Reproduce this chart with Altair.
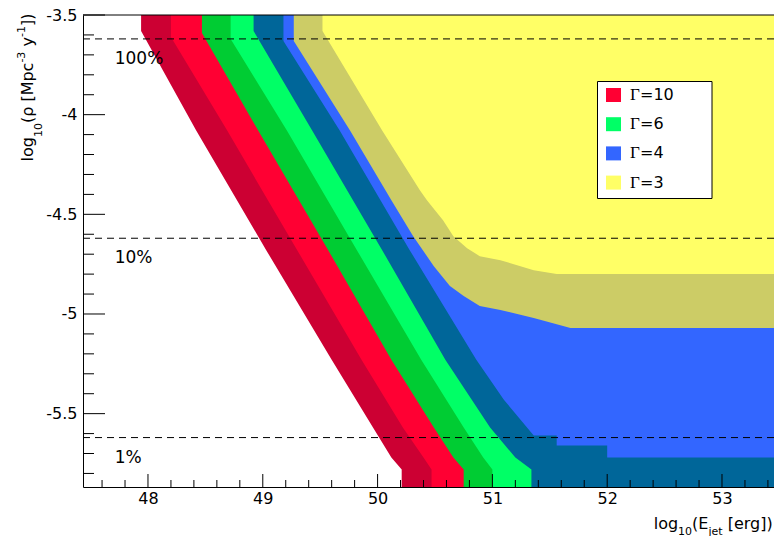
import altair as alt
import pandas as pd

FONT = "DejaVu Sans"
W, H = 691, 472
X_MIN, X_MAX = 47.434, 53.453
Y_MIN, Y_MAX = -5.868, -3.5

# ---- boundaries of the excluded regions (log10 E_jet, log10 rho), listed top -> bottom
G10_OUT_X = [47.94, 47.94, 48.42, 49.03, 49.60, 49.96, 50.12, 50.21, 50.21]
G10_OUT_Y = [-3.50, -3.58, -4.08, -4.68, -5.23, -5.57, -5.72, -5.78, -5.87]
G10_IN_X = [48.20, 48.20, 48.69, 49.30, 49.86, 50.22, 50.40, 50.47, 50.47]
G10_IN_Y = [-3.50, -3.61, -4.08, -4.68, -5.23, -5.57, -5.72, -5.78, -5.87]
G6_OUT_X = [48.47, 48.47, 48.96, 49.57, 50.12, 50.49, 50.66, 50.75, 50.75]
G6_OUT_Y = [-3.50, -3.59, -4.08, -4.68, -5.23, -5.57, -5.72, -5.78, -5.87]
G6_IN_X = [48.72, 48.72, 49.21, 49.82, 50.38, 50.75, 50.92, 51.00, 51.00]
G6_IN_Y = [-3.50, -3.62, -4.08, -4.68, -5.23, -5.57, -5.72, -5.78, -5.87]
G4_OUT_X = [48.92, 48.92, 49.43, 50.04, 50.59, 50.98, 51.20, 51.34, 51.34]
G4_OUT_Y = [-3.50, -3.58, -4.08, -4.68, -5.23, -5.57, -5.72, -5.78, -5.87]
G4_IN_X = [49.18, 49.18, 49.67, 50.28, 50.86, 51.10, 51.36, 51.56, 51.56, 52.00, 52.00]
G4_IN_Y = [-3.50, -3.63, -4.08, -4.68, -5.23, -5.43, -5.61, -5.61, -5.66, -5.66, -5.72]
G3_OUT_X = [49.27, 49.27, 49.76, 50.12, 50.31, 50.49, 50.63, 50.75, 50.89, 51.07, 51.36, 51.68]
G3_OUT_Y = [-3.50, -3.63, -4.08, -4.43, -4.61, -4.76, -4.86, -4.91, -4.96, -4.98, -5.02, -5.07]
G3_IN_X = [49.52, 49.52, 50.04, 50.37, 50.43, 50.57, 50.66, 50.78, 50.89, 51.07, 51.36, 51.56]
G3_IN_Y = [-3.50, -3.58, -4.08, -4.38, -4.43, -4.53, -4.61, -4.67, -4.71, -4.73, -4.78, -4.80]

REGION_COLORS = ["#CC0033", "#FF0033", "#00CC33", "#00FF66",
                 "#006699", "#3366FF", "#CCCC66", "#FFFF66"]

# ---- reference rate lines
PCT_Y = [-3.62, -4.62, -5.62]
PCT_LABELS = ["100%", "10%", "1%"]
PCT_LABEL_Y = [-3.72, -4.72, -5.72]
PCT_LABEL_X = 47.71

# ---- legend
LEG_GAMMA = ["\u0393", "\u0393", "\u0393", "\u0393"]
LEG_VALUES = ["=10", "=6", "=4", "=3"]
LEG_COLORS = ["#FF0033", "#00FF66", "#3366FF", "#FFFF66"]

# ---- axes
X_MAJOR = [48, 49, 50, 51, 52, 53]
X_MINOR = [47.6, 47.8, 48.2, 48.4, 48.6, 48.8, 49.2, 49.4, 49.6, 49.8, 50.2, 50.4,
           50.6, 50.8, 51.2, 51.4, 51.6, 51.8, 52.2, 52.4, 52.6, 52.8, 53.2, 53.4]
Y_MAJOR = [-3.5, -4.0, -4.5, -5.0, -5.5]
Y_MINOR = [-3.6, -3.7, -3.8, -3.9, -4.1, -4.2, -4.3, -4.4, -4.6, -4.7, -4.8, -4.9,
           -5.1, -5.2, -5.3, -5.4, -5.6, -5.7, -5.8]

Y_TITLE_PARTS = ["log", "10", "(\u03c1 [Mpc", "-3", "y", "-1", "])"]
X_TITLE_PARTS = ["log", "10", "(E", "jet", "[erg])"]

XS = alt.Scale(domain=[X_MIN, X_MAX], nice=False, zero=False)
YS = alt.Scale(domain=[Y_MIN, Y_MAX], nice=False, zero=False)
XAX = alt.Axis(values=X_MAJOR, ticks=False, grid=False, title="", labelFont=FONT,
               labelFontSize=16, labelColor="black", labelPadding=3, labelFlush=False,
               domainColor="black", domainWidth=1, labelExpr="'' + datum.value")
YAX = alt.Axis(values=Y_MAJOR, ticks=False, grid=False, title="", labelFont=FONT,
               labelFontSize=16, labelColor="black", labelPadding=6, labelFlush=False,
               domainColor="black", domainWidth=1, labelExpr="'' + datum.value")


def X(f, **kw):
    return alt.X(f, type="quantitative", scale=XS, axis=XAX, **kw)


def Y(f, **kw):
    return alt.Y(f, type="quantitative", scale=YS, axis=YAX, **kw)


layers = []
regions = [(G10_OUT_X, G10_OUT_Y), (G10_IN_X, G10_IN_Y), (G6_OUT_X, G6_OUT_Y),
           (G6_IN_X, G6_IN_Y), (G4_OUT_X, G4_OUT_Y), (G4_IN_X, G4_IN_Y),
           (G3_OUT_X, G3_OUT_Y), (G3_IN_X, G3_IN_Y)]
for (bx, by), col in zip(regions, REGION_COLORS):
    # range area from the boundary up to the top of the frame, closed at the right edge
    xs = list(bx) + [X_MAX]
    ys = list(by) + [by[-1]]
    df = pd.DataFrame({"bx": xs, "by": ys, "yt": [Y_MAX] * len(xs)})
    layers.append(
        alt.Chart(df).mark_area(color=col, clip=True)
        .encode(x=X("bx"), y=Y("by"), y2="yt")
    )

# dashed reference lines and labels
pct = pd.DataFrame({"y": PCT_Y, "ly": PCT_LABEL_Y, "t": PCT_LABELS,
                    "lx": [PCT_LABEL_X] * len(PCT_Y)})
layers.append(alt.Chart(pct).mark_rule(color="black", strokeWidth=1, strokeDash=[7, 5])
              .encode(y=Y("y"), x=alt.value(0), x2=alt.value(W)))
layers.append(alt.Chart(pct).mark_text(align="left", baseline="middle", font=FONT,
                                       fontSize=17, color="black")
              .encode(x=X("lx"), y=Y("ly"), text="t:N"))

# inward ticks (ROOT style)
tx_major = pd.DataFrame({"v": X_MAJOR})
tx_minor = pd.DataFrame({"v": X_MINOR})
ty_major = pd.DataFrame({"v": Y_MAJOR})
ty_minor = pd.DataFrame({"v": Y_MINOR})
layers.append(alt.Chart(tx_major).mark_rule(color="black", strokeWidth=1)
              .encode(x=X("v"), y=alt.value(H), y2=alt.value(H - 13)))
layers.append(alt.Chart(tx_minor).mark_rule(color="black", strokeWidth=1)
              .encode(x=X("v"), y=alt.value(H), y2=alt.value(H - 7)))
layers.append(alt.Chart(ty_major).mark_rule(color="black", strokeWidth=1)
              .encode(y=Y("v"), x=alt.value(0), x2=alt.value(22)))
layers.append(alt.Chart(ty_minor).mark_rule(color="black", strokeWidth=1)
              .encode(y=Y("v"), x=alt.value(0), x2=alt.value(11)))

ONE = pd.DataFrame({"k": [0]})
# top frame line
layers.append(alt.Chart(ONE).mark_rule(color="black", strokeWidth=1)
              .encode(x=alt.value(0), x2=alt.value(W), y=alt.value(0)))

# legend box
layers.append(alt.Chart(ONE).mark_rect(fill="white", stroke="black", strokeWidth=1)
              .encode(x=alt.value(514.5), x2=alt.value(629), y=alt.value(66.5),
                      y2=alt.value(183.5)))
for i, (g, v, c) in enumerate(zip(LEG_GAMMA, LEG_VALUES, LEG_COLORS)):
    cy = 80 + 29.2 * i
    layers.append(alt.Chart(ONE).mark_rect(fill=c)
                  .encode(x=alt.value(523), x2=alt.value(538),
                          y=alt.value(cy - 7), y2=alt.value(cy + 7)))
    layers.append(alt.Chart(ONE).mark_text(text=g, font="Liberation Serif", fontSize=17,
                                           color="black", align="left", baseline="middle")
                  .encode(x=alt.value(547), y=alt.value(cy)))
    layers.append(alt.Chart(ONE).mark_text(text=v, font=FONT, fontSize=16,
                                           color="black", align="left", baseline="middle")
                  .encode(x=alt.value(557), y=alt.value(cy)))


def piece(s, x, y, size, angle=None):
    kw = dict(text=s, font=FONT, fontSize=size, color="black", align="left",
              baseline="alphabetic")
    if angle is not None:
        kw["angle"] = angle
    return alt.Chart(ONE).mark_text(**kw).encode(x=alt.value(x), y=alt.value(y))


# y title pieces (rotated, reading upward)
y_pos = [(-49.7, 146.5, 16), (-41.5, 122.1, 11), (-49.7, 108.1, 16), (-58, 47.6, 11),
         (-49.7, 31.5, 16), (-58, 22.0, 11), (-49.7, 11.0, 16)]
for s, (px, py, fs) in zip(Y_TITLE_PARTS, y_pos):
    layers.append(piece(s, px, py, fs, angle=270))

# x title pieces
x_pos = [(570.7, 514, 16), (595.1, 519.5, 11), (609.1, 514, 16), (625.5, 519.5, 11),
         (644.7, 514, 16)]
for s, (px, py, fs) in zip(X_TITLE_PARTS, x_pos):
    layers.append(piece(s, px, py, fs))

chart = alt.layer(*layers).properties(
    width=W, height=H,
    padding={"left": 75, "top": 7, "right": 0, "bottom": 49},
    autosize=alt.AutoSizeParams(type="none"),
    background="white",
).configure_view(strokeOpacity=0)

chart.save("out.html", embed_options={"renderer": "svg", "actions": False})
